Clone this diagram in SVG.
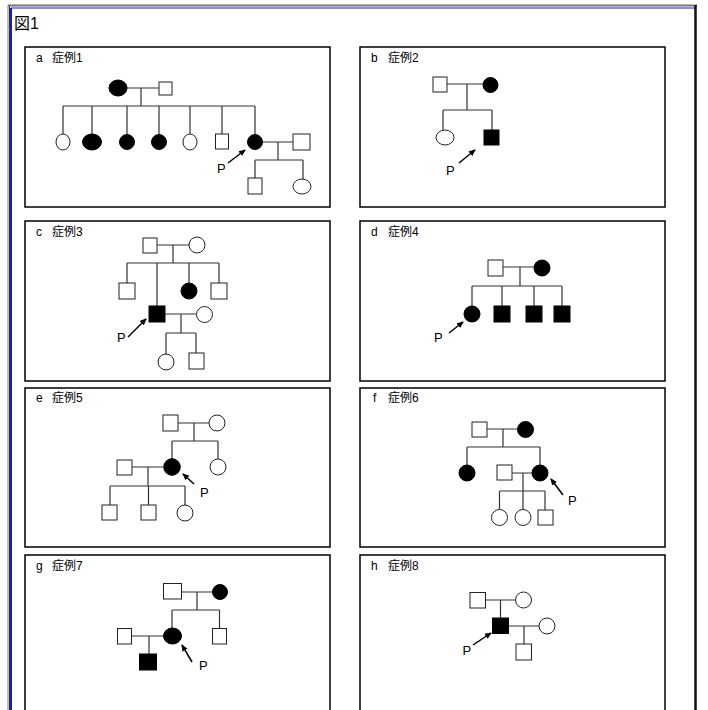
<svg xmlns="http://www.w3.org/2000/svg" width="708" height="710" viewBox="0 0 708 710">
<defs>
<style>
.t{font-family:"Liberation Sans","Noto Sans CJK JP",sans-serif;fill:#000}
.lab{font-size:12px}
.p{font-size:13px}
.panel{fill:#fff;stroke:#000;stroke-width:1.5}
.l{fill:none;stroke:#333;stroke-width:1.2}
.o{fill:#fff;stroke:#222;stroke-width:1}
.f{fill:#000;stroke:#000;stroke-width:1}
.ar{stroke:#000;stroke-width:1.5;marker-end:url(#ah)}
</style>
<marker id="ah" markerWidth="8" markerHeight="8" refX="6" refY="4" orient="auto" markerUnits="userSpaceOnUse">
<path d="M0,1 L7,4 L0,7 z" fill="#000"/>
</marker>
</defs>
<rect width="708" height="710" fill="#fff"/>
<g id="frame">
<line x1="8" y1="5" x2="8" y2="710" stroke="#aaa" stroke-width="1.5"/>
<line x1="9.5" y1="5" x2="9.5" y2="710" stroke="#333" stroke-width="1"/>
<line x1="11" y1="8" x2="11" y2="710" stroke="#1a1acc" stroke-width="2"/>
<line x1="8" y1="5.5" x2="697" y2="5.5" stroke="#777" stroke-width="2"/>
<line x1="11" y1="8" x2="695" y2="8" stroke="#1a1acc" stroke-width="1.2"/>
<line x1="695.5" y1="5" x2="695.5" y2="710" stroke="#111" stroke-width="2.5"/>
<text class="t" x="14" y="29" font-size="16">図1</text>
</g>
<g id="panels">
<rect class="panel" x="25" y="47" width="305" height="160"/>
<rect class="panel" x="360" y="47" width="305" height="160"/>
<rect class="panel" x="25" y="221" width="305" height="160"/>
<rect class="panel" x="360" y="221" width="305" height="160"/>
<rect class="panel" x="25" y="388" width="305" height="159"/>
<rect class="panel" x="360" y="388" width="305" height="159"/>
<rect class="panel" x="25" y="555" width="305" height="170"/>
<rect class="panel" x="360" y="555" width="305" height="170"/>
</g>
<g id="labels">
<text class="t lab" x="36" y="62">a</text><text class="t lab" x="52" y="62">症例1</text>
<text class="t lab" x="371" y="62">b</text><text class="t lab" x="388" y="62">症例2</text>
<text class="t lab" x="36" y="236">c</text><text class="t lab" x="52" y="236">症例3</text>
<text class="t lab" x="371" y="236">d</text><text class="t lab" x="388" y="236">症例4</text>
<text class="t lab" x="36" y="402">e</text><text class="t lab" x="52" y="402">症例5</text>
<text class="t lab" x="373" y="402">f</text><text class="t lab" x="388" y="402">症例6</text>
<text class="t lab" x="36" y="570">g</text><text class="t lab" x="52" y="570">症例7</text>
<text class="t lab" x="371" y="570">h</text><text class="t lab" x="388" y="570">症例8</text>
</g>
<g id="connectors">
<!-- a -->
<path class="l" d="M127,88H159M141,88V106M63,106H255M63,106V134M92,106V134M127,106V134M159,106V134M190,106V134M222,106V134M255,106V134M262,142H293M278,142V160M255,160H303M255,160V178M303,160V179"/>
<!-- b -->
<path class="l" d="M447,84H483M467,84V110M443,110H492M443,110V130M492,110V130"/>
<!-- c -->
<path class="l" d="M157,245H189M173,245V263M127,263H219M127,263V283M157,263V306M189,263V283M219,263V283M165,314H196M181,314V333M166,333H196M166,333V354M196,333V353"/>
<!-- d -->
<path class="l" d="M503,267H534M520,267V286M472,286H562M472,286V306M502,286V306M534,286V306M562,286V306"/>
<!-- e -->
<path class="l" d="M178,423H209M194,423V441M172,441H218M172,441V459M218,441V459M132,467H163M148,467V486M110,486H185M110,486V505M148.5,486V505M185,486V505"/>
<!-- f -->
<path class="l" d="M487,429H517M503,429V447M467,447H540M467,447V465M540,447V465M512,473H532M523,473V491M499.5,491H545M499.5,491V509M523,491V509M545,491V510"/>
<!-- g -->
<path class="l" d="M181.5,592H212.5M197,592V610M172,610H219.5M172,610V628M219.5,610V628M131.5,636H163.5M149,636V654"/>
<!-- h -->
<path class="l" d="M485.5,600H515.5M500.5,600V618M508.5,626H539M524,626V644"/>
<!-- proband arrows -->
<line class="ar" x1="228" y1="163" x2="245" y2="150"/>
<line class="ar" x1="459" y1="163" x2="475" y2="150"/>
<line class="ar" x1="128" y1="337" x2="146" y2="319"/>
<line class="ar" x1="449" y1="333" x2="463" y2="322"/>
<line class="ar" x1="194" y1="484" x2="183" y2="474"/>
<line class="ar" x1="563" y1="495" x2="551" y2="479"/>
<line class="ar" x1="192" y1="662" x2="182" y2="645"/>
<line class="ar" x1="473" y1="645" x2="491" y2="633"/>
</g>
<g id="case1">
<ellipse class="f" cx="118" cy="88" rx="9" ry="8"/>
<rect class="o" x="159" y="82" width="13" height="13"/>
<ellipse class="o" cx="63" cy="142" rx="7" ry="8"/>
<ellipse class="f" cx="92" cy="142" rx="9.5" ry="8"/>
<circle class="f" cx="127" cy="142" r="7.5"/>
<circle class="f" cx="159" cy="142" r="7.5"/>
<ellipse class="o" cx="190" cy="142" rx="7" ry="8"/>
<rect class="o" x="215.5" y="134" width="13" height="15"/>
<circle class="f" cx="255" cy="142" r="7.5"/>
<rect class="o" x="293" y="134" width="17" height="16"/>
<rect class="o" x="248" y="178" width="14" height="16"/>
<ellipse class="o" cx="302" cy="186.5" rx="9" ry="7.5"/>
<text class="t p" x="217" y="173">P</text>
</g>
<g id="case2">
<rect class="o" x="433" y="77" width="14" height="15"/>
<circle class="f" cx="490.5" cy="85" r="7.5"/>
<ellipse class="o" cx="445" cy="137.5" rx="9" ry="7.5"/>
<rect class="f" x="484" y="130" width="15" height="15"/>
<text class="t p" x="446" y="175">P</text>
</g>
<g id="case3">
<rect class="o" x="143" y="238" width="14" height="15"/>
<circle class="o" cx="197" cy="245" r="8"/>
<rect class="o" x="119" y="283" width="16" height="16"/>
<rect class="f" x="149" y="306" width="16" height="16"/>
<circle class="f" cx="189" cy="291" r="8"/>
<rect class="o" x="211" y="283" width="16" height="16"/>
<circle class="o" cx="204.5" cy="314.5" r="8"/>
<circle class="o" cx="166" cy="362" r="8"/>
<rect class="o" x="189" y="353" width="15" height="16"/>
<text class="t p" x="117" y="342">P</text>
</g>
<g id="case4">
<rect class="o" x="488" y="260" width="15" height="16"/>
<circle class="f" cx="542" cy="268" r="8"/>
<circle class="f" cx="472" cy="314" r="8"/>
<rect class="f" x="494" y="306" width="16" height="16"/>
<rect class="f" x="526" y="306" width="16" height="16"/>
<rect class="f" x="554" y="306" width="16" height="16"/>
<text class="t p" x="434" y="342">P</text>
</g>
<g id="case5">
<rect class="o" x="163" y="415" width="15" height="16"/>
<circle class="o" cx="217" cy="423" r="8"/>
<circle class="f" cx="172" cy="467" r="8.3"/>
<circle class="o" cx="218" cy="467" r="8"/>
<rect class="o" x="117" y="460" width="15" height="15"/>
<rect class="o" x="102" y="505" width="15" height="15"/>
<rect class="o" x="141" y="505" width="15" height="15"/>
<circle class="o" cx="185" cy="513" r="8"/>
<text class="t p" x="200" y="497">P</text>
</g>
<g id="case6">
<rect class="o" x="472" y="422" width="15" height="15"/>
<circle class="f" cx="525.5" cy="429.5" r="8"/>
<circle class="f" cx="467" cy="473" r="8"/>
<circle class="f" cx="540" cy="473" r="8"/>
<rect class="o" x="497" y="465" width="15" height="15"/>
<circle class="o" cx="499.5" cy="517.5" r="8"/>
<circle class="o" cx="523" cy="517.5" r="8"/>
<rect class="o" x="538" y="510" width="15" height="15"/>
<text class="t p" x="568" y="505">P</text>
</g>
<g id="case7">
<rect class="o" x="163.5" y="583.5" width="18" height="15.5"/>
<circle class="f" cx="220" cy="592" r="7.5"/>
<ellipse class="f" cx="172.5" cy="636" rx="9" ry="8"/>
<rect class="o" x="212.5" y="628.5" width="14" height="15.5"/>
<rect class="o" x="117.5" y="628.5" width="14" height="15.5"/>
<rect class="f" x="139.5" y="654" width="17" height="16"/>
<text class="t p" x="199" y="670">P</text>
</g>
<g id="case8">
<rect class="o" x="470" y="592.5" width="15.5" height="15.5"/>
<circle class="o" cx="523.5" cy="600" r="8"/>
<rect class="f" x="492.5" y="618" width="16" height="15.5"/>
<circle class="o" cx="547" cy="626" r="8"/>
<rect class="o" x="516" y="644" width="15.5" height="16"/>
<text class="t p" x="462.5" y="655">P</text>
</g>
</svg>
